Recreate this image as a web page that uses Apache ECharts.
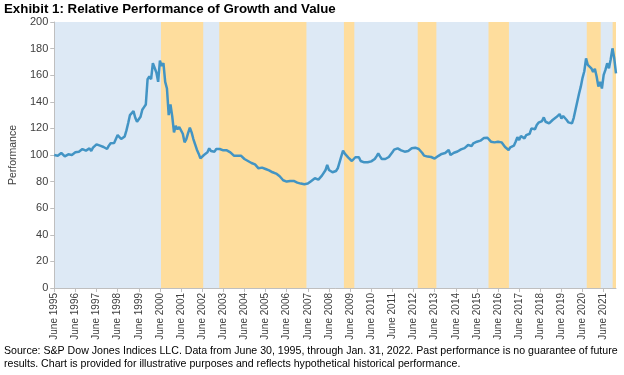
<!DOCTYPE html>
<html>
<head>
<meta charset="utf-8">
<script src="https://cdn.jsdelivr.net/npm/echarts@6/dist/echarts.min.js"></script>
<style>
  html, body { margin: 0; padding: 0; background: #fff; }
  #chart { width: 624px; height: 375px; }
</style>
</head>
<body>
<div id="chart"></div>
<script>
// month index 0 = June 1995, last = Jan 2022
var startYear = 1995;
var tickYears = [1995, 1996, 1997, 1998, 1999, 2000, 2001, 2002, 2003, 2004, 2005, 2006, 2007,
  2008, 2009, 2010, 2011, 2012, 2013, 2014, 2015, 2016, 2017, 2018, 2019, 2020, 2021];
var yTicks = [0, 20, 40, 60, 80, 100, 120, 140, 160, 180, 200];

// relative performance (growth / value), one row per June-May year
var performance = [
  100, 100, 99.5, 101, 101.5, 100, 99, 100, 100.5, 99.5, 100, 101,              // 1995
  102, 101.5, 102.5, 103, 104.5, 104, 103.3, 104, 105, 103, 105.5, 106.5,       // 1996
  108, 107.5, 107, 106.5, 106, 105.5, 104.5, 107, 108.8, 109.5, 109, 110.5,     // 1997
  115, 113.5, 112, 113, 114, 118.5, 124, 130, 129, 133, 128, 125,               // 1998
  126, 128.8, 134, 136, 138, 157, 159, 157, 169, 169.5, 162, 155,               // 1999
  171, 167, 169, 155, 150, 130, 138, 129, 117, 122, 119.3, 121,                 // 2000
  121, 116, 109.5, 112, 116.5, 120.5, 117, 112, 108, 104, 101, 97.5,            // 2001
  97, 100, 101, 102, 105, 103, 102, 102.5, 104.5, 106, 104.5, 104,              // 2002
  103.5, 103.3, 103.5, 103, 102, 100.5, 99.5, 98.8, 99.5, 100, 99.5, 98.5,      // 2003
  97, 96.5, 95.5, 94.5, 94, 93.5, 93, 91.5, 90, 90, 90.5, 90.4,                 // 2004
  89.5, 89, 88.5, 88, 87, 86.5, 86, 85, 84, 82.5, 81, 80.5,                     // 2005
  80, 80, 80.5, 81, 80.5, 79.5, 79.2, 79, 78.5, 78.2, 78, 78,                   // 2006
  78.5, 79.5, 80.5, 81.5, 82.5, 83.5, 81.5, 83, 84.5, 86, 88.5, 92.5,           // 2007
  88.7, 88, 87, 86, 88, 90, 91.5, 99, 103.3, 101, 99.5, 98,                     // 2008
  99.5, 95.5, 94.5, 98.3, 98.5, 98.3, 95.5, 95, 94.5, 94.2, 94.5, 95,           // 2009
  95.2, 95.8, 97, 99, 101.3, 99, 97, 96.8, 97, 97.5, 98.5, 100,                 // 2010
  102, 104, 105.5, 105, 104.3, 103.5, 102.5, 102.5, 102.5, 103, 104.5, 105,     // 2011
  104.3, 105.5, 105.8, 104.5, 103.5, 101.5, 99.5, 98.8, 98.8, 98.8, 98.5, 97.8, // 2012
  97.3, 98.2, 99.2, 100, 100.8, 101.2, 101.5, 102.2, 103.8, 100, 101, 101.7,    // 2013
  102.3, 102.6, 103.6, 104.2, 105, 105.2, 105.8, 107.5, 107.2, 106.8, 108.8, 109.5, // 2014
  110, 110.5, 110.8, 112, 112.8, 113.3, 113, 111.7, 110, 108.8, 109.5, 109.8,   // 2015
  110, 110, 109.5, 108.8, 106, 104.5, 103.8, 105.8, 106.5, 107, 110, 113.3,     // 2016
  111.3, 114.3, 113, 112.5, 115, 113.8, 116, 120, 119.8, 119.3, 122.5, 124.3,   // 2017
  124.3, 125.5, 128.3, 125, 124.5, 123.8, 125, 126.3, 127.5, 128.3, 129, 130.8, // 2018
  127.5, 129.3, 128, 126.3, 124.5, 123.8, 123.8, 128, 134, 140, 146, 151.4,     // 2019
  158, 163, 172.7, 167.7, 166.5, 165.2, 162.4, 164.8, 159, 151.4, 155, 150,     // 2020
  160.2, 164, 169, 165.2, 172, 180.2, 172.7, 161.4                              // 2021
];

// periods where value outperformed (month index from / to)
var valueBandStart = [60.6, 93.7, 164.5, 206.4, 246.6, 302.4, 317.1];
var valueBandEnd = [84.6, 143.2, 170.4, 217, 258.2, 310.3, 319];

var lastIndex = performance.length - 1;
var lineData = performance.map(function (v, i) { return [i, v]; });
var tickIndex = tickYears.map(function (y) { return (y - startYear) * 12; });
var bands = valueBandStart.map(function (s, k) {
  return [{ xAxis: s }, { xAxis: valueBandEnd[k] }];
});

var chart = echarts.init(document.getElementById('chart'));
chart.setOption({
  animation: false,
  textStyle: { fontFamily: 'Liberation Sans, Arial, sans-serif' },
  grid: {
    left: 53, right: 8, top: 22, bottom: 87,
    show: true, backgroundColor: '#dde9f5', borderWidth: 0
  },
  graphic: [
    {
      type: 'text', left: 4, top: 3,
      style: {
        text: 'Exhibit 1: Relative Performance of Growth and Value',
        font: 'bold 13.3px "Liberation Sans", Arial, sans-serif', fill: '#000'
      }
    },
    {
      type: 'text', left: 4, top: 345,
      style: {
        text: 'Source: S&P Dow Jones Indices LLC. Data from June 30, 1995, through Jan. 31, 2022. Past performance is no guarantee of future\nresults. Chart is provided for illustrative purposes and reflects hypothetical historical performance.',
        font: '10.6px "Liberation Sans", Arial, sans-serif', fill: '#000', lineHeight: 13
      }
    }
  ],
  xAxis: {
    type: 'value', min: 0, max: lastIndex,
    axisLine: { show: true, lineStyle: { color: '#bfbfbf' } },
    axisTick: { show: true, customValues: tickIndex, length: 4, lineStyle: { color: '#bfbfbf' } },
    axisLabel: {
      customValues: tickIndex, rotate: 90, fontSize: 10, color: '#404040', margin: 5,
      formatter: function (v) { return 'June ' + (startYear + Math.round(v / 12)); }
    },
    splitLine: { show: false }
  },
  yAxis: {
    type: 'value', min: 0, max: 200, interval: 20,
    name: 'Performance', nameLocation: 'middle', nameGap: 30,
    nameTextStyle: { fontSize: 10.5, color: '#404040' },
    axisLine: { show: true, lineStyle: { color: '#bfbfbf' } },
    axisTick: { show: true, length: 4, lineStyle: { color: '#bfbfbf' } },
    axisLabel: { fontSize: 11, color: '#404040', margin: 6 },
    splitLine: { show: false }
  },
  series: [{
    type: 'line',
    data: lineData,
    showSymbol: false,
    lineStyle: { color: '#4294c4', width: 2.5 },
    markArea: {
      silent: true,
      itemStyle: { color: '#fedd9d' },
      data: bands
    }
  }]
});
</script>
</body>
</html>
